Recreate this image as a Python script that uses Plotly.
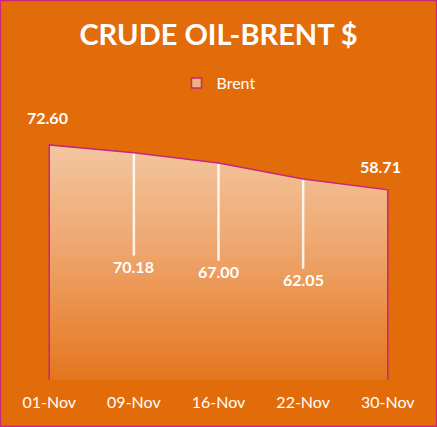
import plotly.graph_objects as go

dates = ["01-Nov", "09-Nov", "16-Nov", "22-Nov", "30-Nov"]
brent = [72.60, 70.18, 67.00, 62.05, 58.71]

BG = "#E36C0A"
EDGE = "#C8267F"
FONT = dict(family="Lato, sans-serif", color="white")

fig = go.Figure()

# closed area outline: down to zero at both ends
fig.add_trace(go.Scatter(
    x=[dates[0]] + dates + [dates[-1]], y=[0] + brent + [0],
    mode="lines", fill="toself", name="Brent", showlegend=False,
    line=dict(color=EDGE, width=1.5),
    fillgradient=dict(type="vertical",
                      colorscale=[[0, "#E5761F"], [0.55, "#EEA56C"], [1, "#F3C6A0"]]),
    hoverinfo="skip",
))

# legend entry only
fig.add_trace(go.Scatter(
    x=[None], y=[None], mode="markers", name="Brent",
    marker=dict(symbol="square", size=10, color="#F0B283",
                line=dict(color=EDGE, width=1.5)),
))

# white drop lines on the inner points
for d, v in zip(dates[1:-1], brent[1:-1]):
    fig.add_trace(go.Scatter(
        x=[d, d], y=[v - 0.3, v / 2 + 3.3], mode="lines",
        line=dict(color="rgba(255,255,255,0.85)", width=2.5),
        showlegend=False, hoverinfo="skip",
    ))

# data labels
label_font = dict(family="Lato, sans-serif", size=16, color="white", weight="bold")
for i, (d, v) in enumerate(zip(dates, brent)):
    if i == 0:
        fig.add_annotation(x=d, y=v, text=f"{v:.2f}", showarrow=False,
                           yshift=27, xshift=-2, font=label_font)
    elif i == len(dates) - 1:
        fig.add_annotation(x=d, y=v, text=f"{v:.2f}", showarrow=False,
                           yshift=23, xshift=-7, font=label_font)
    else:
        fig.add_annotation(x=d, y=v / 2, text=f"{v:.2f}", showarrow=False,
                           font=label_font)

L, R, T, B = 45, 45, 121, 44
PW, PH = 437 - L - R, 427 - T - B

fig.update_layout(
    width=437, height=427,
    margin=dict(l=L, r=R, t=T, b=B),
    paper_bgcolor=BG, plot_bgcolor=BG,
    font=FONT,
    title=dict(text="<b>CRUDE OIL-BRENT $</b>", x=0.5, xanchor="center",
               y=1 - 35 / 427, yanchor="middle",
               font=dict(family="Lato, sans-serif", size=29, color="white")),
    legend=dict(orientation="h", x=0.5, xanchor="center", y=1 + 38 / PH, yanchor="middle",
                font=dict(family="Lato, sans-serif", size=16, color="white"),
                bgcolor="rgba(0,0,0,0)", itemwidth=30),
    xaxis=dict(type="category", range=[-0.05, 4.05], showgrid=False, zeroline=False,
               showline=False, ticks="", tickfont=dict(size=16, color="white"),
               ticklabelstandoff=8, fixedrange=True),
    yaxis=dict(range=[-1, 80], visible=False, showgrid=False, zeroline=False,
               fixedrange=True),
    shapes=[dict(type="rect", xref="paper", yref="paper",
                 x0=-L / PW + 0.001, x1=1 + R / PW - 0.001,
                 y0=-B / PH + 0.002, y1=1 + T / PH - 0.002,
                 line=dict(color=EDGE, width=1.5), layer="above")],
)

fig.write_html("out.html", config={"displayModeBar": False},
               post_script="document.body.style.margin='0';")
